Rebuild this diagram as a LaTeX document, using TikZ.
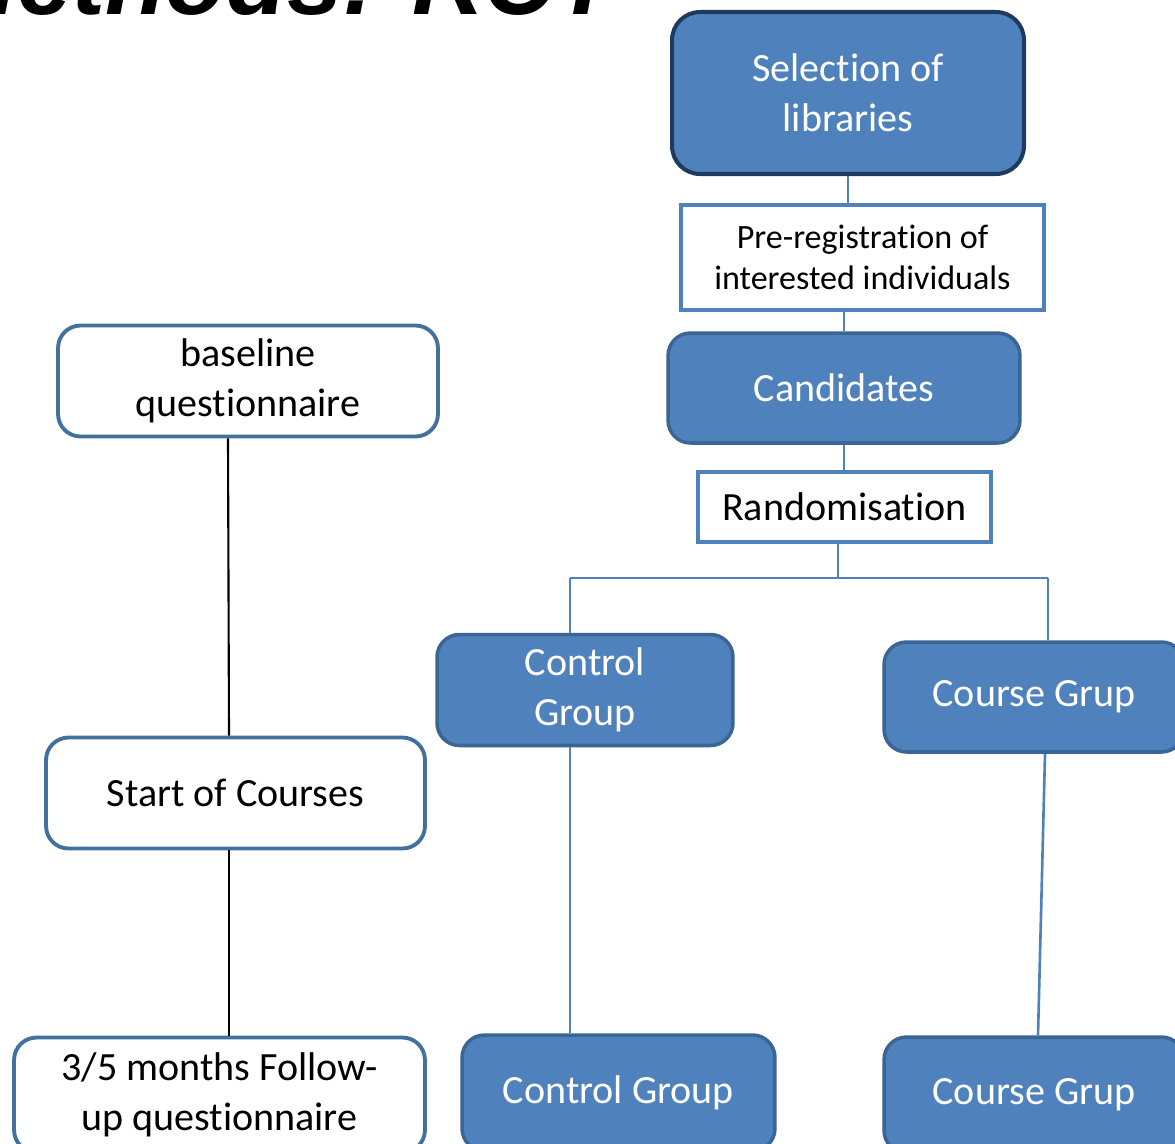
\documentclass[tikz,border=0pt]{standalone}
\usepackage{fontspec}
\setmainfont{Carlito}[Ligatures=NoCommon]
\newfontfamily\headfont{Liberation Sans}
\definecolor{boxblue}{HTML}{4F81BD}
\definecolor{edgeblue}{HTML}{3A6595}
\definecolor{darkedge}{HTML}{1F3A5F}
\definecolor{plainedge}{HTML}{41719C}
\begin{document}
\begin{tikzpicture}[x=0.02cm,y=-0.02cm,
		filled/.style={draw=edgeblue,line width=2pt,fill=boxblue,text=white,rounded corners=0.45cm,align=center,inner sep=0pt,font=\fontsize{22.8}{28.5}\selectfont},
		plain/.style={draw=plainedge,line width=2.2pt,fill=white,rounded corners=0.45cm,align=center,inner sep=0pt,font=\fontsize{22.8}{28.5}\selectfont},
		square/.style={draw=boxblue,line width=2.4pt,fill=white,align=center,inner sep=0pt},
		blueline/.style={boxblue,line width=1.5pt},
		blackline/.style={black,line width=1.2pt}]
		\useasboundingbox (0,0) rectangle (1175,1143);
		\clip (0,0) rectangle (1175,1143);
		\node[anchor=base west,inner sep=0pt,font=\headfont\bfseries\itshape\fontsize{56.5}{60}\selectfont] (heading) at (-66,14) {Methods: RCT};
		% right column
		\node[filled,draw=darkedge,line width=2.3pt,rounded corners=0.56cm,minimum width=7.04cm,minimum height=3.24cm] (select) at (848,93) {Selection of\\libraries};
		\node[square,minimum width=7.26cm,minimum height=2.1cm,font=\fontsize{19.4}{23.3}\selectfont] (prereg) at (862.5,257.5) {Pre-registration of\\interested individuals};
		\node[filled,minimum width=7.04cm,minimum height=2.2cm] (cands) at (844,388) {Candidates};
		\node[square,minimum width=5.86cm,minimum height=1.4cm,font=\fontsize{22.8}{28.5}\selectfont] (random) at (844.5,507) {Randomisation};
		\node[filled,minimum width=5.92cm,minimum height=2.22cm] (controlA) at (585,690) {Control\\Group};
		\node[filled,minimum width=6cm,minimum height=2.2cm] (courseA) at (1034,697) {Course Grup};
		\node[filled,minimum width=6.26cm,minimum height=2.32cm] (controlB) at (618.5,1093) {Control Group};
		\node[filled,minimum width=6cm,minimum height=2.32cm] (courseB) at (1034,1095) {Course Grup};
		% left column
		\node[plain,minimum width=7.6cm,minimum height=2.22cm] (baseline) at (248,381) {baseline\\questionnaire};
		\node[plain,minimum width=7.58cm,minimum height=2.22cm] (startc) at (235.5,793) {Start of Courses};
		\node[plain,minimum width=8.22cm,minimum height=2.3cm] (follow) at (219.5,1095) {3/5 months Follow-\\up questionnaire};
		\coordinate (split) at (838,578);
		\coordinate (splitL) at (570,578);
		\coordinate (splitR) at (1048,578);
		\draw[blueline] (select.south) -- (select.south |- prereg.north);
		\draw[blueline] (cands.north |- prereg.south) -- (cands.north);
		\draw[blueline] (cands.south) -- (cands.south |- random.north);
		\draw[blueline] (split |- random.south) -- (split);
		\draw[blueline] (splitL) -- (splitR);
		\draw[blueline] (splitL) -- (splitL |- controlA.north);
		\draw[blueline] (splitR) -- (splitR |- courseA.north);
		\draw[blueline] (splitL |- controlA.south) -- (splitL |- controlB.north);
		\draw[blueline] (courseA.south -| 1045,0) -- (courseB.north -| 1038,0);
		\draw[blackline] (baseline.south -| 228,0) -- (startc.north -| 229,0);
		\draw[blackline] (startc.south -| 229,0) -- (follow.north -| 229,0);
	\end{tikzpicture}
\end{document}
